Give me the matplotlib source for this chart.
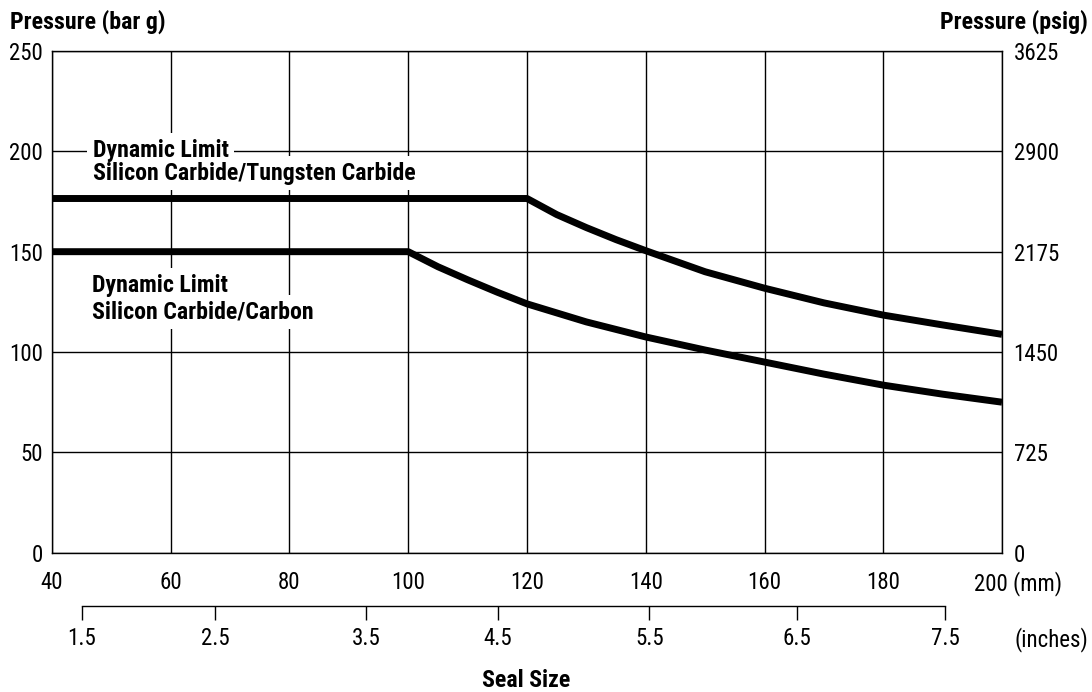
import matplotlib
matplotlib.use("Agg")
import matplotlib.pyplot as plt

plt.rcParams["font.family"] = ["Roboto Condensed", "DejaVu Sans"]

# =========================
# DATA
# =========================

# Silicon Carbide / Tungsten Carbide dynamic limit
TC_SIZE_MM = [40, 120, 125, 130, 135, 140, 150, 160, 170, 180, 190, 200]
TC_PRESSURE = [176.5, 176.5, 168.5, 162, 156, 150.5, 140, 131.8, 124.5, 118.4, 113.5, 108.8]

# Silicon Carbide / Carbon dynamic limit
C_SIZE_MM = [40, 100, 105, 110, 115, 120, 130, 140, 150, 160, 170, 180, 190, 200]
C_PRESSURE = [150, 150, 142.5, 136, 129.8, 124, 115, 107.5, 101, 95, 89, 83.5, 79, 75]

MM_TICKS = [40, 60, 80, 100, 120, 140, 160, 180, 200]
MM_LABELS = ["40", "60", "80", "100", "120", "140", "160", "180", ""]
BAR_TICKS = [0, 50, 100, 150, 200, 250]
PSIG_LABELS = ["0", "725", "1450", "2175", "2900", "3625"]

# inch ticks as drawn on the original (positions on the mm scale)
INCH_TICK_MM = [45.0, 67.5, 92.9, 115.1, 140.6, 165.5, 190.4]
INCH_LABELS = ["1.5", "2.5", "3.5", "4.5", "5.5", "6.5", "7.5"]

# curve labels: (x mm, baseline bar, text)
CURVE_LABELS = [
    (46.9, 197.2, "Dynamic Limit"),
    (46.9, 185.8, "Silicon Carbide/Tungsten Carbide"),
    (46.7, 130.0, "Dynamic Limit"),
    (46.7, 116.7, "Silicon Carbide/Carbon"),
]

TICK_SIZE = 16.5
BOLD_SIZE = 17.2


# =========================
# FIGURE
# =========================

fig = plt.figure(figsize=(10.92, 6.92), dpi=100)
ax = fig.add_axes([0.0476, 0.2013, 0.870, 0.7250])

ax.set_xlim(40, 200)
ax.set_ylim(0, 250)

ax.plot(TC_SIZE_MM, TC_PRESSURE, color="black", lw=5, solid_capstyle="butt",
        solid_joinstyle="round", zorder=3)
ax.plot(C_SIZE_MM, C_PRESSURE, color="black", lw=5, solid_capstyle="butt",
        solid_joinstyle="round", zorder=3)

ax.set_xticks(MM_TICKS)
ax.set_xticklabels(MM_LABELS)
ax.set_yticks(BAR_TICKS)
ax.grid(True, color="black", lw=1.0)
ax.set_axisbelow(True)
ax.tick_params(axis="x", length=0, pad=13, labelsize=TICK_SIZE)
ax.tick_params(axis="y", length=0, pad=6.5, labelsize=TICK_SIZE)
for s in ax.spines.values():
    s.set_linewidth(1.0)

# right axis (psig)
ax2 = ax.twinx()
ax2.set_ylim(0, 250)
ax2.set_yticks(BAR_TICKS)
ax2.set_yticklabels(PSIG_LABELS)
ax2.tick_params(axis="y", length=0, pad=8.3, labelsize=TICK_SIZE)
for s in ax2.spines.values():
    s.set_visible(False)

# inches axis
sec = ax.secondary_xaxis(-0.1057)
sec.set_xticks(INCH_TICK_MM)
sec.set_xticklabels(INCH_LABELS)
sec.spines["bottom"].set_bounds(INCH_TICK_MM[0], INCH_TICK_MM[-1])
sec.spines["bottom"].set_linewidth(1.0)
sec.tick_params(axis="x", length=10, width=1.0, pad=5, labelsize=TICK_SIZE, direction="out")

# unit labels
ax.annotate("200 (mm)", xy=(1, 0), xycoords="axes fraction", xytext=(-28, -18),
            textcoords="offset pixels", ha="left", va="top", fontsize=TICK_SIZE)
ax.annotate("(inches)", xy=(1, 0), xycoords="axes fraction", xytext=(86, -74),
            textcoords="offset pixels", ha="right", va="top", fontsize=TICK_SIZE)

fig.text(0.0090, 0.958, "Pressure (bar g)", ha="left", va="baseline",
         fontsize=BOLD_SIZE, fontweight="bold")
fig.text(0.9960, 0.958, "Pressure (psig)", ha="right", va="baseline",
         fontsize=BOLD_SIZE, fontweight="bold")
fig.text(0.4817, 0.016, "Seal Size", ha="center", va="center",
         fontsize=BOLD_SIZE, fontweight="bold")

# curve labels: white boxes first (they break the grid), then the text on top
box = dict(facecolor="white", edgecolor="none", pad=4)
for x, y, label in CURVE_LABELS:
    ax.text(x, y, label, ha="left", va="baseline", fontsize=BOLD_SIZE,
            fontweight="bold", color="white", bbox=box, zorder=4)
for x, y, label in CURVE_LABELS:
    ax.text(x, y, label, ha="left", va="baseline", fontsize=BOLD_SIZE,
            fontweight="bold", zorder=5)

fig.savefig("out.png", dpi=100)
